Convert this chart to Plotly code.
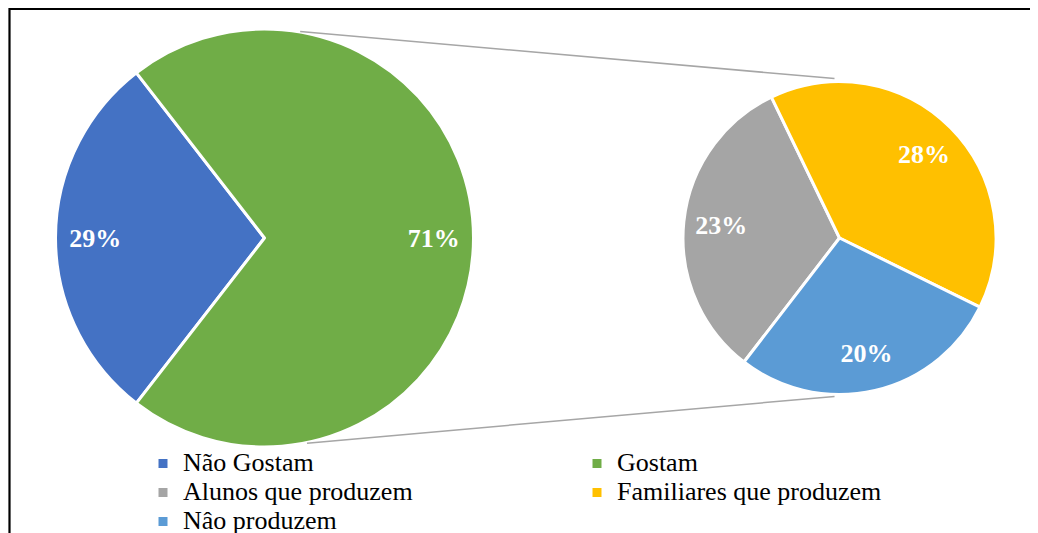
import math
import plotly.graph_objects as go

# ---- data ----
main_labels = ["Não Gostam", "Gostam"]
main_values = [29, 71]
sub_labels = ["Alunos que produzem", "Familiares que produzem", "Nâo produzem"]
sub_values = [23, 28, 20]

main_colors = ["#4472C4", "#70AD47"]
sub_colors = ["#A5A5A5", "#FFC000", "#5B9BD5"]

W, H = 1038, 533
OFF = 8  # page body margin of the html page
SERIF = "Liberation Serif"

# pie geometry (page pixels)
L_CX, L_CY, L_R = 264.5, 238.0, 209.0
R_CX, R_CY, R_R = 839.5, 238.0, 156.5


def px(x):
    return (x - OFF) / W


def py(y):
    return (H - (y - OFF)) / H


def dom(cx, cy, r):
    return dict(x=[px(cx - r), px(cx + r)], y=[py(cy + r), py(cy - r)])


def legend_label(s):
    return f'<span style="font-size:26px;font-family:{SERIF}">{s}</span>'


def pie_pair(labels, values, colors, rot, domain, label_hole):
    # coloured slices (with legend entries)
    base = go.Pie(
        labels=[legend_label(s) for s in labels],
        values=values,
        sort=False,
        direction="clockwise",
        rotation=rot,
        domain=domain,
        marker=dict(colors=colors, line=dict(color="white", width=3)),
        textinfo="none",
        hoverinfo="label+value",
    )
    # transparent copy carrying the data labels, placed in an outer ring
    lab = go.Pie(
        labels=[legend_label(s) for s in labels],
        values=values,
        sort=False,
        direction="clockwise",
        rotation=rot,
        domain=domain,
        hole=label_hole,
        marker=dict(colors=["rgba(0,0,0,0)"] * len(values), line=dict(width=0)),
        texttemplate="%{value}%",
        textposition="inside",
        insidetextorientation="horizontal",
        textfont=dict(family=SERIF, size=26, color="white", weight="bold"),
        showlegend=False,
        hoverinfo="skip",
    )
    return base, lab


fig = go.Figure()
lb, ll = pie_pair(main_labels, main_values, main_colors, -142.2, dom(L_CX, L_CY, L_R), 0.62)
rb, rl = pie_pair(sub_labels, sub_values, sub_colors, -142.4, dom(R_CX, R_CY, R_R), 0.52)
fig.add_trace(lb)
fig.add_trace(rb)
fig.add_trace(ll)
fig.add_trace(rl)


def circ(cx, cy, r, deg):
    a = math.radians(deg)
    return cx + r * math.cos(a), cy - r * math.sin(a)


shapes = []
# connector lines between the pies
for la, ra, rr in [(80.2, 91.8, R_R + 3), (-78.3, -91.8, R_R + 2)]:
    x0, y0 = circ(L_CX, L_CY, L_R + 0.5, la)
    x1, y1 = circ(R_CX, R_CY, rr, ra)
    shapes.append(dict(type="line", xref="paper", yref="paper",
                       x0=px(x0), y0=py(y0), x1=px(x1), y1=py(y1),
                       line=dict(color="#A6A6A6", width=1.5)))
# chart frame (left and top edges)
shapes.append(dict(type="path", xref="paper", yref="paper",
                   path=f"M {px(9.5)} {py(545)} L {px(9.5)} {py(9)} L {px(1050)} {py(9)}",
                   line=dict(color="black", width=2.2)))

fig.update_layout(
    width=W, height=H,
    margin=dict(l=0, r=0, t=0, b=0, autoexpand=False),
    paper_bgcolor="white",
    plot_bgcolor="white",
    font=dict(family=SERIF),
    shapes=shapes,
    showlegend=True,
    legend=dict(
        orientation="h",
        x=px(143), y=py(444), xanchor="left", yanchor="top",
        entrywidth=389, entrywidthmode="pixels",
        font=dict(family=SERIF, size=20, color="black"),
        bgcolor="rgba(0,0,0,0)",
        traceorder="normal",
    ),
)

fig.write_html("out.html")
